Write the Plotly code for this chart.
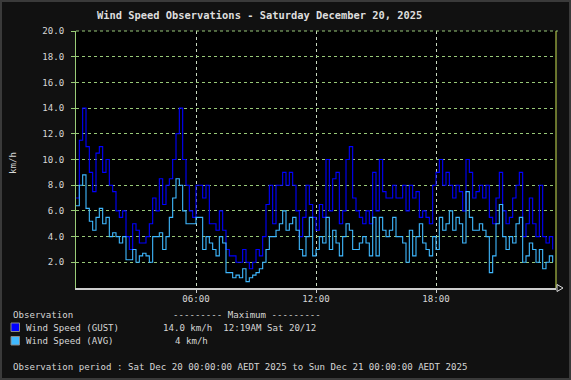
import pandas as pd
import plotly.graph_objects as go

# ---- data (10-minute readings, km/h) ----
times = pd.date_range("2025-12-20 00:00", periods=144, freq="10min")

gust = [
    7.0, 11.5, 14.0, 11.0, 9.0, 7.5, 10.5, 11.0, 9.0, 10.0,
    8.0, 7.5, 6.0, 5.5, 6.0, 4.0, 3.0, 5.0, 4.5, 3.5,
    3.5, 4.0, 5.0, 7.0, 6.0, 8.5, 6.5, 8.0, 8.5, 10.0,
    12.0, 14.0, 10.0, 8.0, 6.0, 5.5, 8.0, 8.0, 7.0, 8.0,
    5.0, 5.0, 4.5, 6.0, 4.5, 3.0, 2.5, 2.5, 2.0, 2.0,
    3.0, 2.0, 1.5, 2.0, 3.0, 2.5, 4.0, 6.5, 8.0, 5.0,
    8.0, 8.0, 9.0, 8.0, 9.0, 8.0, 6.0, 4.0, 5.5, 8.0,
    6.5, 5.5, 4.5, 6.5, 5.5, 10.0, 6.0, 8.5, 9.0, 5.0,
    6.0, 10.0, 11.0, 7.0, 6.0, 5.5, 5.0, 6.0, 5.0, 9.0,
    6.0, 10.0, 7.5, 7.0, 7.0, 8.0, 7.0, 7.0, 8.0, 6.0,
    8.0, 7.0, 7.5, 5.5, 6.0, 5.5, 5.0, 8.0, 9.0, 10.0,
    8.0, 9.0, 8.0, 7.0, 8.0, 7.5, 6.0, 10.0, 9.0, 7.0,
    7.5, 8.0, 7.0, 8.0, 5.5, 5.0, 7.0, 9.0, 6.0, 5.0,
    5.5, 7.0, 8.0, 9.0, 4.0, 5.0, 7.0, 5.0, 4.0, 8.0,
    4.0, 3.5, 4.0, 3.0,
]

avg = [
    6.4, 8.0, 8.8, 6.2, 5.2, 4.5, 5.5, 6.2, 5.0, 5.5,
    4.0, 4.3, 4.0, 3.5, 4.0, 2.2, 2.2, 3.0, 2.0, 2.5,
    2.7, 2.5, 2.0, 4.0, 4.0, 4.3, 3.0, 4.0, 5.5, 7.0,
    8.5, 8.0, 6.0, 5.0, 5.0, 5.0, 5.5, 5.5, 3.0, 4.0,
    3.5, 3.0, 2.5, 4.0, 3.5, 1.2, 1.2, 0.8, 1.0, 0.8,
    1.5, 0.5, 0.8, 1.0, 1.2, 1.5, 2.0, 3.0, 4.0, 4.0,
    4.5, 5.0, 6.0, 4.5, 5.0, 5.5, 4.5, 3.0, 2.5, 4.0,
    5.5, 2.5, 3.0, 4.0, 3.5, 5.5, 3.0, 4.5, 3.5, 2.5,
    4.0, 5.0, 4.5, 3.0, 3.0, 3.5, 4.0, 3.5, 2.5, 5.5,
    2.5, 5.5, 4.5, 4.0, 4.5, 5.5, 4.0, 4.0, 3.5, 2.0,
    4.5, 2.5, 4.0, 5.0, 3.5, 3.0, 2.5, 4.0, 3.0, 5.5,
    4.5, 5.0, 6.0, 4.5, 5.5, 5.0, 3.5, 7.5, 5.5, 4.5,
    4.5, 5.0, 4.5, 4.0, 1.2, 2.5, 5.0, 6.5, 4.0, 3.0,
    4.0, 3.5, 5.0, 5.5, 2.0, 2.5, 3.5, 3.0, 2.0, 3.0,
    1.5, 2.0, 2.5, 2.0,
]

y_ticks = [2, 4, 6, 8, 10, 12, 14, 16, 18, 20]
x_ticks = ["2025-12-20 06:00", "2025-12-20 12:00", "2025-12-20 18:00"]
x_tick_labels = ["06:00", "12:00", "18:00"]

title_text = "Wind Speed Observations - Saturday December 20, 2025"
y_title = "km/h"
gust_name = "Wind Speed (GUST)"
avg_name = "Wind Speed (AVG)"
gust_max_text = "14.0 km/h  12:19AM Sat 20/12"
avg_max_text = "4 km/h"
period_text = "Observation period : Sat Dec 20 00:00:00 AEDT 2025 to Sun Dec 21 00:00:00 AEDT 2025"

GUST_COLOR = "#0000ff"
AVG_COLOR = "#3fb8ff"
TEXT = "#d6d6d6"
GRID_H = "#98c878"
MONO = "DejaVu Sans Mono"

# ---- layout geometry (pixels) ----
W, H = 571, 380
L, R, T, B = 76, 15, 31, 92
PW, PH = W - L - R, H - T - B


def px(X):
    return (X - L) / PW


def py(Y):
    return (H - B - Y) / PH


fig = go.Figure()
fig.add_trace(go.Scatter(x=times, y=gust, mode="lines", line=dict(color=GUST_COLOR, width=1.1, shape="hv"),
                         name=gust_name, showlegend=False))
fig.add_trace(go.Scatter(x=times, y=avg, mode="lines", line=dict(color=AVG_COLOR, width=1.1, shape="hv"),
                         name=avg_name, showlegend=False))

fig.update_layout(
    width=W, height=H,
    margin=dict(l=L, r=R, t=T, b=B, autoexpand=False),
    paper_bgcolor="#111111",
    plot_bgcolor="#000000",
    font=dict(family=MONO, size=9.1, color=TEXT),
    showlegend=False,
)

fig.update_xaxes(
    type="date",
    range=["2025-12-20 00:00", "2025-12-21 00:00"],
    tickvals=x_ticks, ticktext=x_tick_labels,
    showgrid=True, gridcolor="#c8d8c0", griddash="dot", gridwidth=1,
    showline=True, linecolor="#cccccc", linewidth=1.5,
    ticks="outside", ticklen=3, tickcolor="#cccccc",
    tickfont=dict(family=MONO, size=9.1, color=TEXT),
    ticklabelstandoff=-2,
    zeroline=False,
)
fig.update_yaxes(
    range=[0, 20],
    tickvals=y_ticks, tickformat=".1f",
    showgrid=True, gridcolor=GRID_H, griddash="dot", gridwidth=1,
    showline=True, linecolor="#99cc77", linewidth=1,
    ticks="outside", ticklen=4, tickcolor="#99cc77",
    tickfont=dict(family=MONO, size=9.1, color=TEXT),
    ticklabelstandoff=5,
    zeroline=False,
)

shapes = [
    # right border of plot area
    dict(type="line", xref="paper", yref="paper", x0=1, x1=1, y0=0, y1=1,
         line=dict(color="#8a9a3a", width=1.5)),
    # top dotted border
    dict(type="line", xref="paper", yref="paper", x0=0, x1=1.004, y0=1, y1=1,
         line=dict(color=GRID_H, width=1, dash="dot")),
    # outer frame
    dict(type="rect", xref="paper", yref="paper", x0=px(1), x1=px(W - 1), y0=py(H - 1), y1=py(1),
         line=dict(color="#3a3a3a", width=2)),
    # legend swatches
    dict(type="rect", xref="paper", yref="paper", x0=px(11), x1=px(19.5), y0=py(331.5), y1=py(323),
         fillcolor=GUST_COLOR, line=dict(color="#888888", width=1)),
    dict(type="rect", xref="paper", yref="paper", x0=px(11), x1=px(19.5), y0=py(345), y1=py(336.5),
         fillcolor=AVG_COLOR, line=dict(color="#888888", width=1)),
    # arrow head at end of time axis
    dict(type="path", xref="paper", yref="paper",
         path=f"M {px(557)},{py(284.5)} L {px(563)},{py(288)} L {px(557)},{py(291.5)} Z",
         line=dict(color="#dddddd", width=1), fillcolor="rgba(0,0,0,0)"),
]

annotations = [
    dict(text=f"<b>{title_text}</b>", x=px(95), y=py(15), xanchor="left", yanchor="middle",
         font=dict(family=MONO, size=10.4, color="#dddddd")),
    dict(text=y_title, x=px(13), y=py(163), xanchor="center", yanchor="middle", textangle=-90),
    dict(text="Observation", x=px(11), y=py(314.5), xanchor="left", yanchor="middle"),
    dict(text="--------- Maximum ---------", x=px(171), y=py(314.5), xanchor="left", yanchor="middle"),
    dict(text=gust_name, x=px(24), y=py(327.5), xanchor="left", yanchor="middle"),
    dict(text=gust_max_text, x=px(160.5), y=py(327.5), xanchor="left", yanchor="middle"),
    dict(text=avg_name, x=px(24), y=py(341), xanchor="left", yanchor="middle"),
    dict(text=avg_max_text, x=px(210), y=py(341), xanchor="right", yanchor="middle"),
    dict(text=period_text, x=px(11), y=py(367), xanchor="left", yanchor="middle"),
]
for a in annotations:
    a.setdefault("xref", "paper")
    a.setdefault("yref", "paper")
    a.setdefault("showarrow", False)
    a.setdefault("font", dict(family=MONO, size=9.1, color=TEXT))

fig.update_layout(shapes=shapes, annotations=annotations)

fig.write_html(
    "out.html",
    config={"displayModeBar": False},
    post_script="document.body.style.margin='0';document.body.style.padding='0';"
                "document.body.style.background='#111111';",
)
